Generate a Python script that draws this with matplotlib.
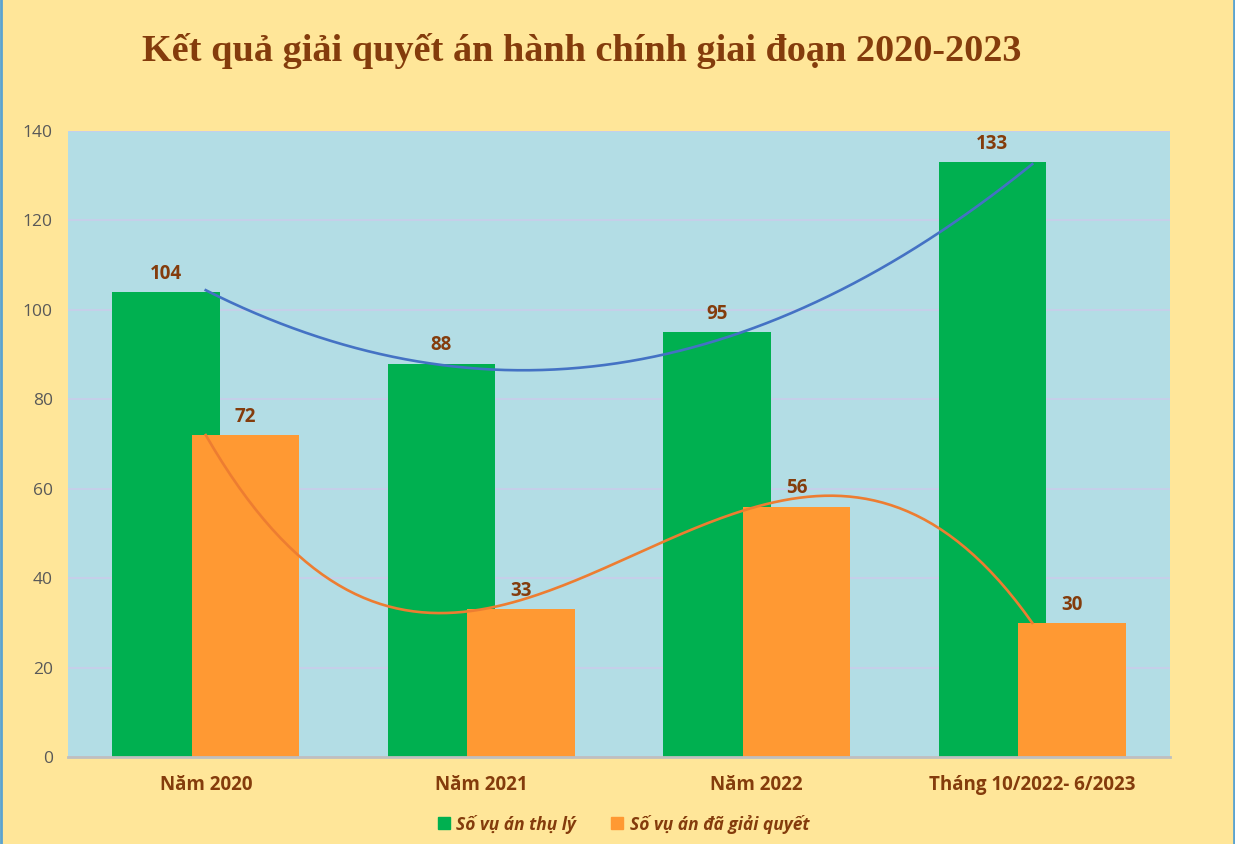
import numpy as np
import matplotlib.pyplot as plt
from matplotlib.lines import Line2D

categories = ["Năm 2020", "Năm 2021", "Năm 2022", "Tháng 10/2022- 6/2023"]
thu_ly = [104, 88, 95, 133]
da_giai_quyet = [72, 33, 56, 30]
series_names = ["Số vụ án thụ lý", "Số vụ án đã giải quyết"]
y_ticks = [0, 20, 40, 60, 80, 100, 120, 140]

BG = "#FFE699"
PLOT_BG = "#B3DDE5"
GREEN = "#00B050"
ORANGE = "#FF9933"
BROWN = "#843C0C"

fig = plt.figure(figsize=(12.35, 8.44), dpi=100, facecolor=BG)
ax = fig.add_axes([68 / 1235, 87 / 844, 1102 / 1235, 626 / 844])
ax.set_facecolor(PLOT_BG)

x = np.arange(len(categories))
w = 0.39
off = 0.145
ax.bar(x - off, thu_ly, w, color=GREEN, zorder=2)
ax.bar(x + off, da_giai_quyet, w, color=ORANGE, zorder=3)

# trendlines (Excel polynomial: order 2 for green, order 3 for orange)
xs = np.linspace(0, len(categories) - 1, 200)
p2 = np.polyfit(x, thu_ly, 2)
p3 = np.polyfit(x, da_giai_quyet, 3)
ax.plot(xs, np.polyval(p2, xs), color="#4472C4", lw=1.9, zorder=4)
ax.plot(xs, np.polyval(p3, xs), color="#ED7D31", lw=1.9, zorder=4)

for i in range(len(categories)):
    ax.annotate(str(thu_ly[i]), (x[i] - off, thu_ly[i]), xytext=(0, 6),
                textcoords="offset points", ha="center", va="bottom",
                fontsize=13.5, fontweight="bold", color=BROWN, family="Open Sans", zorder=5)
    ax.annotate(str(da_giai_quyet[i]), (x[i] + off, da_giai_quyet[i]), xytext=(0, 6),
                textcoords="offset points", ha="center", va="bottom",
                fontsize=13.5, fontweight="bold", color=BROWN, family="Open Sans", zorder=5)

ax.set_xlim(-0.5, len(categories) - 0.5)
ax.set_ylim(0, 140)
ax.set_yticks(y_ticks)
ax.set_yticklabels([str(t) for t in y_ticks], fontsize=12.5, color="#595959", family="Open Sans")
ax.set_xticks(x)
ax.set_xticklabels(categories, fontsize=13.5, fontweight="bold", color=BROWN, family="Open Sans")
ax.tick_params(axis="both", length=0)
ax.tick_params(axis="x", pad=13)
ax.tick_params(axis="y", pad=11)
ax.grid(axis="y", color="#C9CDEB", lw=1.2, zorder=1)
ax.set_axisbelow(True)
for s in ["top", "right", "left"]:
    ax.spines[s].set_visible(False)
ax.spines["bottom"].set_color("#BFBFBF")
ax.spines["bottom"].set_linewidth(2)
ax.spines["bottom"].set_zorder(6)

fig.text(582 / 1235, 1 - 51 / 844, "Kết quả giải quyết án hành chính giai đoạn 2020-2023",
         ha="center", va="center", fontsize=27.5, fontweight="bold", color=BROWN,
         family="Liberation Serif")

handles = [Line2D([], [], marker="s", ls="", color=GREEN, markersize=9),
           Line2D([], [], marker="s", ls="", color=ORANGE, markersize=9)]
fig.legend(handles, series_names, loc="center", bbox_to_anchor=(623 / 1235, 1 - 824 / 844),
           ncol=2, frameon=False, handletextpad=0.3, columnspacing=2.0, handlelength=0.8,
           prop={"family": "Open Sans", "size": 12.5, "style": "italic", "weight": "bold"},
           labelcolor=BROWN)

# thin blue border on left and right edges
fig.add_artist(Line2D([0.001, 0.001], [0, 1], color="#5BA3D0", lw=2, transform=fig.transFigure))
fig.add_artist(Line2D([0.999, 0.999], [0, 1], color="#5BA3D0", lw=2, transform=fig.transFigure))

plt.savefig("out.png", dpi=100, facecolor=BG)
